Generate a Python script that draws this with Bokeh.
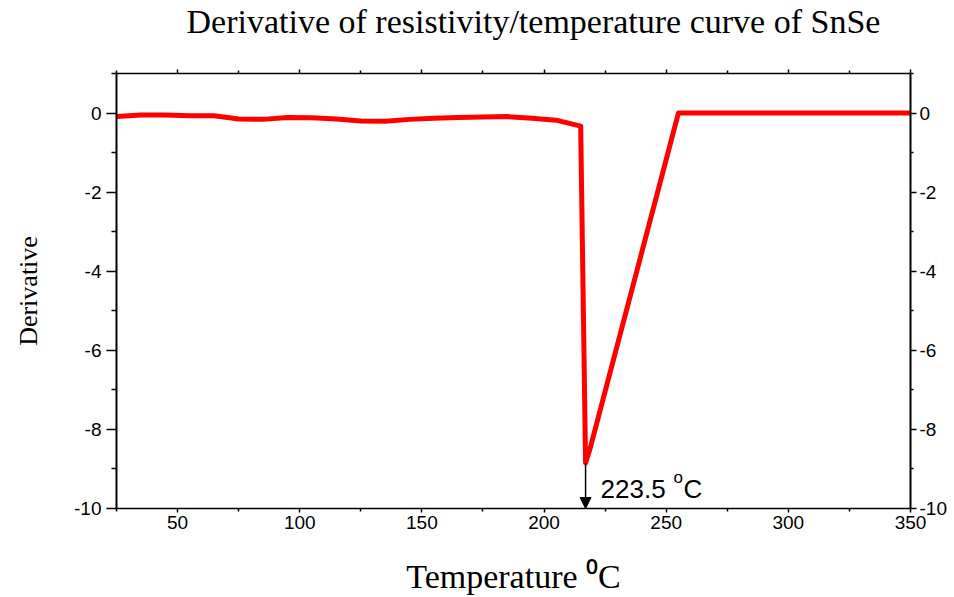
from bokeh.plotting import figure
from bokeh.models import (Range1d, LinearAxis, FixedTicker, Label, Arrow, NormalHead,
                          PrintfTickFormatter, Title)
from bokeh.embed import file_html
from bokeh.resources import INLINE

# ---- data ----
temperature = [25, 35, 45, 55, 65, 75, 85, 95, 105, 115, 125, 135, 145, 155, 165,
               175, 185, 195, 205, 215, 217, 219, 255, 265, 275, 285, 295, 305,
               315, 325, 335, 345, 350]
derivative = [-0.09, -0.05, -0.05, -0.07, -0.07, -0.15, -0.16, -0.11, -0.12, -0.15,
              -0.20, -0.21, -0.16, -0.13, -0.11, -0.10, -0.09, -0.13, -0.18, -0.33,
              -8.85, -8.45, 0.0, 0.0, 0.0, 0.0, 0.0, 0.0, 0.0, 0.0, 0.0, 0.0, 0.0]
x_major = [50, 100, 150, 200, 250, 300, 350]
x_minor = [25, 75, 125, 175, 225, 275, 325]
y_major = [0, -2, -4, -6, -8, -10]
y_minor = [1, -1, -3, -5, -7, -9]
title_text = "Derivative of resistivity/temperature curve of SnSe"
x_label = "Temperature \u2070C"
y_label = "Derivative"
peak_text = "223.5"

imin = derivative.index(min(derivative))
dip_x, dip_y = temperature[imin], derivative[imin]

SANS = "Liberation Sans"
SERIF = "Liberation Serif"

p = figure(width=954, height=597, output_backend="svg", toolbar_location=None,
           x_range=Range1d(25, 350), y_range=Range1d(-10, 1),
           min_border_left=116, min_border_right=44, min_border_top=73,
           min_border_bottom=89)
p.xgrid.visible = False
p.ygrid.visible = False
p.outline_line_color = None
p.background_fill_color = "white"
p.border_fill_color = "white"

p.title.text = title_text
p.title.text_font = SERIF
p.title.text_font_size = "34px"
p.title.text_font_style = "normal"
p.title.text_color = "black"
p.title.align = "left"
p.title.offset = 70
p.title.standoff = 0

xt = FixedTicker(ticks=x_major, minor_ticks=x_minor)
yt = FixedTicker(ticks=y_major, minor_ticks=y_minor)
fmt = PrintfTickFormatter(format="%d")

def style_axis(ax, major_out, minor_out, width, label_size="19px", standoff=5):
    ax.axis_line_color = "black"
    ax.axis_line_width = width
    ax.major_tick_line_color = "black"
    ax.minor_tick_line_color = "black"
    ax.major_tick_line_width = 1.5
    ax.minor_tick_line_width = 1.5
    ax.major_tick_out = major_out
    ax.major_tick_in = 0
    ax.minor_tick_out = minor_out
    ax.minor_tick_in = 0
    ax.major_label_text_font = SANS
    ax.major_label_text_font_size = label_size
    ax.major_label_text_color = "black"
    ax.major_label_standoff = standoff
    ax.formatter = fmt

xa = p.xaxis[0]
xa.ticker = xt
style_axis(xa, 4, 3, 1.5, standoff=3)
xa.axis_label = x_label
xa.axis_label_text_font = SERIF
xa.axis_label_text_font_size = "34px"
xa.axis_label_text_font_style = "normal"
xa.axis_label_text_color = "black"
xa.axis_label_standoff = 26

ya = p.yaxis[0]
ya.ticker = yt
style_axis(ya, 10, 5, 2, standoff=5)
ya.axis_label = y_label
ya.axis_label_text_font = SERIF
ya.axis_label_text_font_size = "26px"
ya.axis_label_text_font_style = "normal"
ya.axis_label_text_color = "black"
ya.axis_label_standoff = 28

# top axis: ticks only
top = LinearAxis(ticker=xt)
style_axis(top, 4, 3, 1.5)
top.major_label_text_font_size = "0px"
top.major_label_text_color = None
p.add_layout(top, "above")

# blank spacer between the top axis and the title
p.add_layout(Title(text=" ", text_font_size="1px", standoff=27), "above")

right = LinearAxis(ticker=yt)
style_axis(right, 6, 3, 2, standoff=3)
p.add_layout(right, "right")

p.line(temperature, derivative, line_color="#ff0000", line_width=5,
       line_join="round")

p.add_layout(Arrow(end=NormalHead(size=11, fill_color="black", line_color="black"),
                   x_start=dip_x, y_start=dip_y, x_end=dip_x, y_end=-10,
                   line_color="black", line_width=1.5))

p.add_layout(Label(x=dip_x, y=-9.5, x_offset=15, text=peak_text + " ",
                   text_font=SANS, text_font_size="26px", text_color="black",
                   text_baseline="alphabetic"))
p.add_layout(Label(x=dip_x, y=-9.5, x_offset=88, y_offset=11, text="o",
                   text_font=SANS, text_font_size="17px", text_color="black",
                   text_baseline="alphabetic"))
p.add_layout(Label(x=dip_x, y=-9.5, x_offset=98, text="C",
                   text_font=SANS, text_font_size="26px", text_color="black",
                   text_baseline="alphabetic"))

open("out.html", "w").write(file_html(p, INLINE))
